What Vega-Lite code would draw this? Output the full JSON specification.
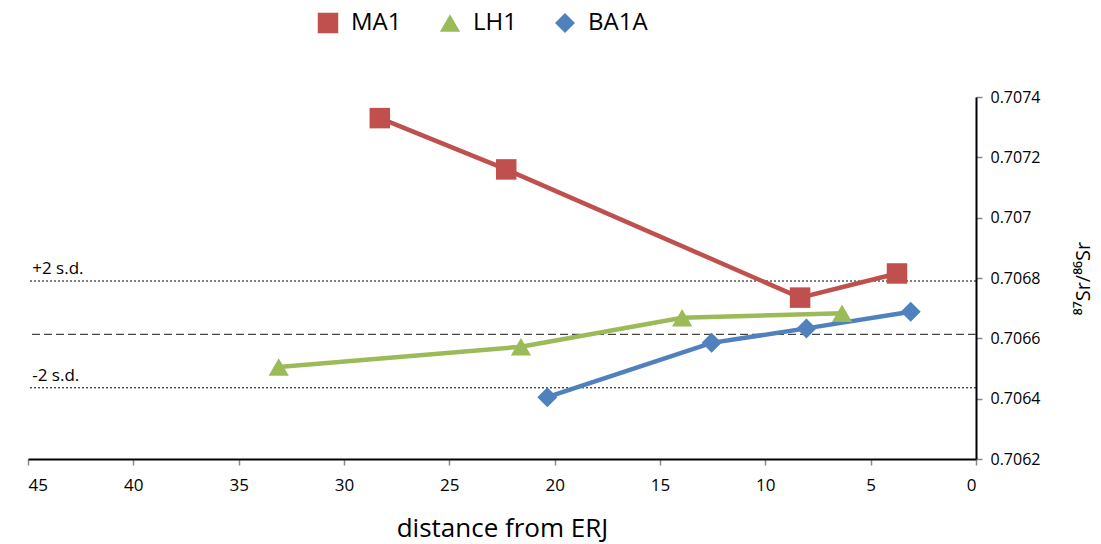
{
  "$schema": "https://vega.github.io/schema/vega-lite/v6.json",
  "width": 948,
  "height": 362,
  "autosize": {"type": "none"},
  "padding": {"left": 28, "top": 97, "right": 125, "bottom": 85},
  "background": "white",
  "config": {
    "view": {"stroke": null},
    "font": "Open Sans"
  },
  "datasets": {
    "series": [
      {"sample": "MA1", "distance": 28.3, "ratio": 0.70733},
      {"sample": "MA1", "distance": 22.3, "ratio": 0.70716},
      {"sample": "MA1", "distance": 8.35, "ratio": 0.706735},
      {"sample": "MA1", "distance": 3.75, "ratio": 0.706815},
      {"sample": "LH1", "distance": 33.1, "ratio": 0.706505},
      {"sample": "LH1", "distance": 21.6, "ratio": 0.706572},
      {"sample": "LH1", "distance": 13.95, "ratio": 0.706668},
      {"sample": "LH1", "distance": 6.36, "ratio": 0.706683},
      {"sample": "BA1A", "distance": 20.35, "ratio": 0.706405},
      {"sample": "BA1A", "distance": 12.55, "ratio": 0.706585},
      {"sample": "BA1A", "distance": 8.05, "ratio": 0.706633},
      {"sample": "BA1A", "distance": 3.1, "ratio": 0.706688}
    ],
    "refs": [
      {"label": "+2 s.d.", "ratio": 0.70679, "kind": "dotted"},
      {"label": "", "ratio": 0.706613, "kind": "dashed"},
      {"label": "-2 s.d.", "ratio": 0.706436, "kind": "dotted"}
    ]
  },
  "layer": [
    {
      "data": {"name": "refs"},
      "transform": [{"filter": "datum.kind == 'dotted'"}],
      "mark": {"type": "rule", "color": "#000000", "strokeWidth": 1, "strokeDash": [2, 2]},
      "encoding": {
        "y": {"field": "ratio", "type": "quantitative", "scale": {"domain": [0.7062, 0.7074], "nice": false, "zero": false}}
      }
    },
    {
      "data": {"name": "refs"},
      "transform": [{"filter": "datum.kind == 'dashed'"}],
      "mark": {"type": "rule", "color": "#444444", "strokeWidth": 1.3, "strokeDash": [8, 4]},
      "encoding": {
        "y": {"field": "ratio", "type": "quantitative"}
      }
    },
    {
      "data": {"name": "refs"},
      "transform": [{"filter": "datum.label != ''"}],
      "mark": {"type": "text", "align": "left", "baseline": "bottom", "dy": -3, "fontSize": 17, "color": "#000000"},
      "encoding": {
        "x": {"datum": 44.8, "type": "quantitative"},
        "y": {"field": "ratio", "type": "quantitative"},
        "text": {"field": "label"}
      }
    },
    {
      "data": {"name": "series"},
      "mark": {"type": "line", "strokeWidth": 4.5},
      "encoding": {
        "x": {"field": "distance", "type": "quantitative"},
        "y": {"field": "ratio", "type": "quantitative"},
        "color": {"field": "sample", "type": "nominal",
          "scale": {"domain": ["MA1", "LH1", "BA1A"], "range": ["#C0504D", "#9BBB59", "#4F81BD"]}}
      }
    },
    {
      "data": {"name": "series"},
      "mark": {"type": "point", "filled": true, "opacity": 1},
      "encoding": {
        "x": {
          "field": "distance", "type": "quantitative",
          "scale": {"domain": [0, 45], "reverse": true, "nice": false, "zero": false},
          "axis": {
            "title": "distance from ERJ", "titleFontSize": 26, "titleFontWeight": "normal", "titleColor": "#000000", "titlePadding": 22,
            "values": [0, 5, 10, 15, 20, 25, 30, 35, 40, 45],
            "labelFontSize": 17, "labelColor": "#000000", "labelPadding": 12,
            "domainColor": "#000000", "domainWidth": 2, "tickColor": "#888888", "tickSize": 6, "tickWidth": 1.5,
            "grid": false
          }
        },
        "y": {
          "field": "ratio", "type": "quantitative",
          "axis": {
            "orient": "right",
            "title": "⁸⁷Sr/⁸⁶Sr", "titleFontSize": 20, "titleFontWeight": "normal", "titleColor": "#000000",
            "titleAngle": 270, "titleX": 107, "titleY": 181, "titleAlign": "center", "titleBaseline": "middle",
            "values": [0.7062, 0.7064, 0.7066, 0.7068, 0.707, 0.7072, 0.7074],
            "format": "~g",
            "labelFontSize": 16, "labelColor": "#000000", "labelPadding": 8,
            "domainColor": "#000000", "domainWidth": 2, "tickColor": "#888888", "tickSize": 6, "tickWidth": 1.5,
            "grid": false
          }
        },
        "color": {"field": "sample", "type": "nominal",
          "scale": {"domain": ["MA1", "LH1", "BA1A"], "range": ["#C0504D", "#9BBB59", "#4F81BD"]},
          "legend": {
            "title": null, "orient": "none", "direction": "horizontal",
            "legendX": 288, "legendY": -86,
            "labelFontSize": 24, "labelColor": "#000000", "symbolSize": 340, "symbolOpacity": 1,
            "labelOffset": 11, "columnPadding": 36, "symbolStrokeWidth": 0
          }
        },
        "shape": {"field": "sample", "type": "nominal",
          "scale": {"domain": ["MA1", "LH1", "BA1A"], "range": ["square", "triangle-up", "diamond"]}},
        "size": {"field": "sample", "type": "nominal", "legend": null,
          "scale": {"domain": ["MA1", "LH1", "BA1A"], "range": [420, 400, 350]}}
      }
    }
  ]
}
